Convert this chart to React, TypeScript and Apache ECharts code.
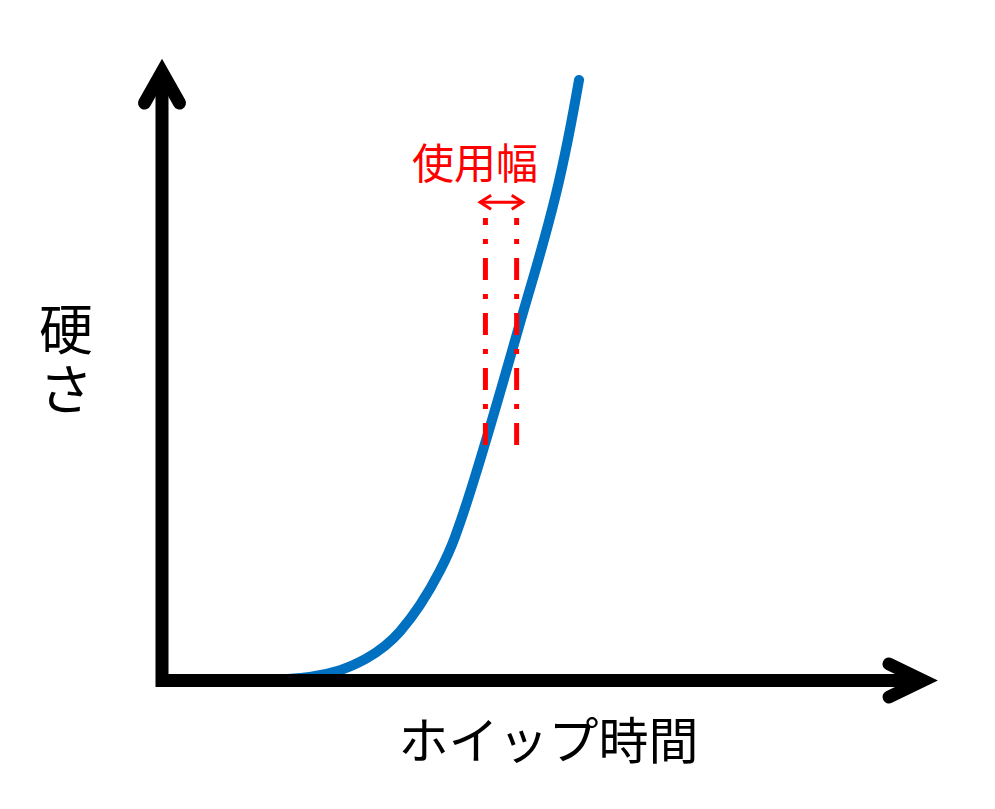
import React, { useEffect, useRef } from 'react';
import * as echarts from 'echarts';

// whip time (x) vs hardness (y), both on a 0-10 scale
const curveTime = [1.39, 1.94, 2.34, 2.67, 2.93, 3.13, 3.39, 3.65, 3.85, 4.14, 4.69, 5.18, 5.48];
const curveHardness = [0.01, 0.06, 0.17, 0.35, 0.57, 0.81, 1.24, 1.8, 2.36, 3.46, 5.81, 8.01, 9.87];

// usable range (使用幅) markers
const rangeTimes = [4.25, 4.66];
const rangeHardness = [3.87, 7.6];
const arrowTimes = [4.18, 4.74];
const arrowHardness = 7.86;

const BLUE = '#0070C0';
const RED = '#FF0000';
const FONT = '"Noto Sans CJK JP", "Noto Sans", sans-serif';

const App: React.FC = () => {
    const chartRef = useRef<HTMLDivElement>(null);

    useEffect(() => {
        if (!chartRef.current) return;
        const chart = echarts.init(chartRef.current, undefined, { renderer: 'svg' });

        const dashed = (t: number) => ({
            type: 'line',
            data: [[t, rangeHardness[0]], [t, rangeHardness[1]]],
            showSymbol: false,
            z: 5,
            lineStyle: { color: RED, width: 5, type: [22, 14, 5, 14], cap: 'butt' },
        });

        chart.setOption({
            animation: false,
            grid: { left: 162, right: 72, top: 72, bottom: 128.5 },
            xAxis: {
                type: 'value',
                min: 0,
                max: 10,
                name: 'ホイップ時間',
                nameLocation: 'middle',
                nameGap: 31,
                nameTextStyle: { fontSize: 50, color: '#000', fontFamily: FONT, padding: [0, 0, 0, 12] },
                axisLine: { show: false },
                axisTick: { show: false },
                axisLabel: { show: false },
                splitLine: { show: false },
            },
            yAxis: {
                type: 'value',
                min: 0,
                max: 10,
                axisLine: { show: false },
                axisTick: { show: false },
                axisLabel: { show: false },
                splitLine: { show: false },
            },
            series: [
                {
                    type: 'line',
                    data: curveTime.map((t, i) => [t, curveHardness[i]]),
                    smooth: 0.4,
                    showSymbol: false,
                    z: 3,
                    lineStyle: { color: BLUE, width: 10, cap: 'round' },
                },
                dashed(rangeTimes[0]),
                dashed(rangeTimes[1]),
                {
                    type: 'line',
                    data: arrowTimes.map((t) => [t, arrowHardness]),
                    showSymbol: false,
                    z: 5,
                    lineStyle: { color: RED, width: 3, cap: 'butt' },
                },
            ],
        });

        const toPx = (p: number[]) => chart.convertToPixel({ gridIndex: 0 }, p) as number[];
        const o = toPx([0, 0]);
        const xEnd = toPx([10, 0]);
        const yEnd = toPx([0, 10]);
        const aL = toPx([arrowTimes[0], arrowHardness]);
        const aR = toPx([arrowTimes[1], arrowHardness]);

        const axisStyle = { stroke: '#000', lineWidth: 13, lineJoin: 'miter', fill: null };
        chart.setOption({
            graphic: [
                {
                    type: 'polyline',
                    z: 100,
                    shape: { points: [yEnd, o, xEnd] },
                    style: { ...axisStyle, lineCap: 'butt' },
                },
                {
                    type: 'polyline',
                    z: 100,
                    shape: { points: [[yEnd[0] - 17.5, yEnd[1] + 31], yEnd, [yEnd[0] + 17.5, yEnd[1] + 31]] },
                    style: { ...axisStyle, lineCap: 'round' },
                },
                {
                    type: 'polyline',
                    z: 100,
                    shape: { points: [[xEnd[0] - 34, xEnd[1] - 16.5], xEnd, [xEnd[0] - 34, xEnd[1] + 16.5]] },
                    style: { ...axisStyle, lineCap: 'round' },
                },
                {
                    type: 'polyline',
                    z: 100,
                    shape: { points: [[aL[0] + 11, aL[1] - 7], aL, [aL[0] + 11, aL[1] + 7]] },
                    style: { stroke: RED, lineWidth: 3, lineJoin: 'miter', fill: null },
                },
                {
                    type: 'polyline',
                    z: 100,
                    shape: { points: [[aR[0] - 11, aR[1] - 7], aR, [aR[0] - 11, aR[1] + 7]] },
                    style: { stroke: RED, lineWidth: 3, lineJoin: 'miter', fill: null },
                },
                {
                    // y axis title, upright characters stacked
                    type: 'text',
                    z: 100,
                    x: 93,
                    y: 356,
                    style: {
                        text: '硬\nさ',
                        fill: '#000',
                        fontSize: 54,
                        lineHeight: 60,
                        fontFamily: FONT,
                        align: 'right',
                        verticalAlign: 'middle',
                    },
                },
                {
                    type: 'text',
                    z: 100,
                    x: 475,
                    y: 160,
                    style: {
                        text: '使用幅',
                        fill: RED,
                        fontSize: 42,
                        fontFamily: FONT,
                        align: 'center',
                        verticalAlign: 'middle',
                    },
                },
            ],
        });

        return () => {
            chart.dispose();
        };
    }, []);

    return (
        <div
            ref={chartRef}
            style={{ position: 'fixed', left: 0, top: 0, width: 995, height: 809, background: '#fff' }}
        />
    );
};

export default App;
